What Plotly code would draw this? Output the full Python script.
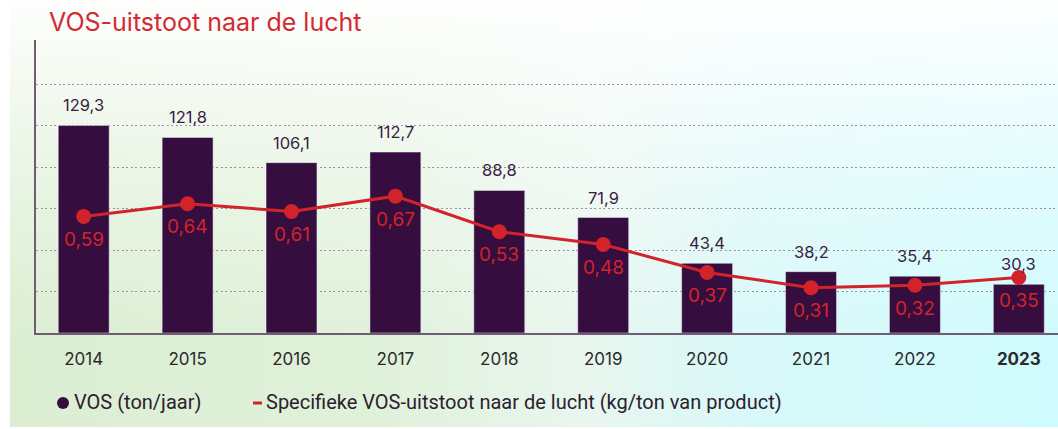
import base64
import plotly.graph_objects as go

years = ["2014", "2015", "2016", "2017", "2018", "2019", "2020", "2021", "2022", "2023"]
vos = [129.3, 121.8, 106.1, 112.7, 88.8, 71.9, 43.4, 38.2, 35.4, 30.3]
specifiek = [0.59, 0.64, 0.61, 0.67, 0.53, 0.48, 0.37, 0.31, 0.32, 0.35]
tick_labels = ["2014", "2015", "2016", "2017", "2018", "2019", "2020", "2021", "2022", "<b>2023</b>"]

BAR = "#350d3f"
RED = "#d2232a"
DARK = "#3a1d43"

PL, PW, PT, PH = 36, 1022, 40, 293  # plot area in pixels


def px(x):
    return (x - PL) / PW


def py(y):
    return (PT + PH - y) / PH


def nl(v, d):
    return f"{v:.{d}f}".replace(".", ",")


fig = go.Figure()
fig.add_trace(go.Bar(x=years, y=vos, marker_color=BAR, width=0.49,
                     hoverinfo="skip", showlegend=False))
fig.add_trace(go.Scatter(x=years, y=specifiek, yaxis="y2", mode="lines+markers",
                         line=dict(color=RED, width=3), marker=dict(color=RED, size=15),
                         hoverinfo="skip", showlegend=False))

ann = []
for i, v in enumerate(vos):
    ann.append(dict(x=i, y=v, xref="x", yref="y", text=nl(v, 1), showarrow=False,
                    yshift=20, font=dict(family="Inter", size=16.5, color=DARK)))
for i, v in enumerate(specifiek):
    ann.append(dict(x=i, y=v, xref="x", yref="y2", text=nl(v, 2), showarrow=False,
                    yshift=-23, font=dict(family="Inter", size=19, color=RED)))

# title (centered on its own span to be robust to text measurement)
ann.append(dict(x=px(205), y=py(22), xref="paper", yref="paper",
                xanchor="center", yanchor="middle", showarrow=False,
                text="VOS-uitstoot naar de lucht",
                font=dict(family="Inter", size=25, color="#d42a33")))

# legend (custom)
ann.append(dict(x=px(72), y=py(402), xref="paper", yref="paper", align="left",
                xanchor="left", yanchor="middle", showarrow=False,
                text="VOS (ton/jaar)",
                font=dict(family="Roboto", size=20, color="#2b2130")))
ann.append(dict(x=px(264), y=py(402), xref="paper", yref="paper", align="left",
                xanchor="left", yanchor="middle", showarrow=False,
                text="Specifieke VOS-uitstoot naar de lucht (kg/ton van product)",
                font=dict(family="Roboto", size=20, color="#2b2130")))
shapes = [
    dict(type="circle", xref="paper", yref="paper", x0=px(57), x1=px(69), y0=py(409), y1=py(397),
         fillcolor=BAR, line=dict(width=0)),
    dict(type="line", xref="paper", yref="paper", x0=px(253), x1=px(262), y0=py(403), y1=py(403),
         line=dict(color=RED, width=3)),
]

svg = """<svg xmlns='http://www.w3.org/2000/svg' width='1048' height='427' viewBox='0 0 1048 427' preserveAspectRatio='none'>
<defs>
<linearGradient id='h' x1='0' x2='1' y1='0' y2='0'>
<stop offset='0' stop-color='#dbeed2'/>
<stop offset='0.35' stop-color='#e0f1da'/>
<stop offset='0.55' stop-color='#e8f6ee'/>
<stop offset='0.7' stop-color='#d9f8f8'/>
<stop offset='1' stop-color='#cffbfe'/>
</linearGradient>
<linearGradient id='v' x1='0' x2='0' y1='0' y2='1'>
<stop offset='0' stop-color='#ffffff' stop-opacity='0.95'/>
<stop offset='0.45' stop-color='#ffffff' stop-opacity='0.35'/>
<stop offset='0.8' stop-color='#ffffff' stop-opacity='0'/>
</linearGradient>
</defs>
<rect x='0' y='0' width='1048' height='427' fill='url(#h)'/>
<rect x='0' y='0' width='1048' height='427' fill='url(#v)'/>
</svg>"""
src = "data:image/svg+xml;base64," + base64.b64encode(svg.encode()).decode()

grid_vals = [25.8 * k for k in range(1, 7)]

fig.update_layout(
    width=1058, height=429,
    margin=dict(l=PL, r=1058 - PL - PW, t=PT, b=429 - PT - PH),
    paper_bgcolor="white", plot_bgcolor="rgba(0,0,0,0)",
    xaxis=dict(type="category", range=[-0.459, 9.377], tickvals=years, ticktext=tick_labels,
               showline=True, linecolor="#6f5d74", linewidth=1.5, showgrid=False,
               ticks="", ticklabelstandoff=10,
               tickfont=dict(family="Inter", size=17, color="#2a2a2a")),
    yaxis=dict(range=[0, 182.5], tickvals=grid_vals, showgrid=True, gridcolor="#9c939f",
               griddash="2px,2.5px", gridwidth=1, zeroline=False, showticklabels=False,
               showline=True, linecolor="#6f5d74", linewidth=1.5),
    yaxis2=dict(range=[0.132, 1.284], overlaying="y", side="right", showgrid=False,
                showticklabels=False, zeroline=False, showline=False),
    annotations=ann,
    shapes=shapes,
    images=[dict(source=src, xref="paper", yref="paper", x=px(10), y=py(0),
                 sizex=1048 / PW, sizey=427 / PH, sizing="stretch", layer="below",
                 xanchor="left", yanchor="top")],
    bargap=0.5,
)

fig.write_html("out.html", config={"displayModeBar": False},
               post_script="document.body.style.margin='0';document.body.style.overflow='hidden';")
